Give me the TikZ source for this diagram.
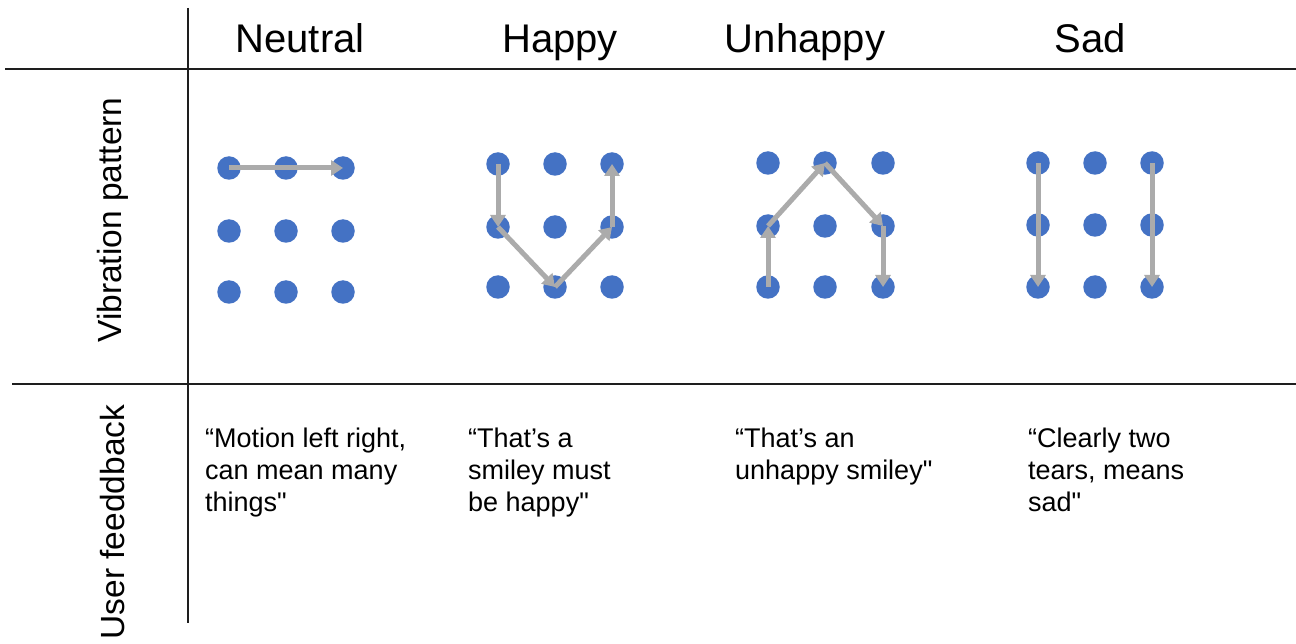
\documentclass[tikz,border=0pt]{standalone}
\usepackage{fontspec}
\setmainfont{Liberation Sans}[Ligatures=TeXOff]
\usetikzlibrary{arrows.meta}
\definecolor{dotblue}{HTML}{4472C4}
\definecolor{arrowgray}{HTML}{ABABAB}
\definecolor{rulecol}{HTML}{1E1E1E}
\tikzset{
  dot/.style={circle, fill=dotblue, minimum size=23.5pt, inner sep=0pt},
  patharrow/.style={draw=arrowgray, line width=5pt, -{Triangle[length=12pt,width=15pt]}},
  tablerule/.style={draw=rulecol, line width=2.5pt},
  header/.style={anchor=base, inner sep=0pt, font=\fontsize{40}{48}\selectfont},
  rowlabel/.style={rotate=90, inner sep=0pt, font=\fontsize{33.5}{40}\selectfont},
  feedback/.style={anchor=north west, align=left, inner sep=0pt, font=\fontsize{27}{32}\selectfont}
}
\begin{document}
\begin{tikzpicture}[x=1pt,y=-1pt]
\useasboundingbox (0,0) rectangle (1296,644);
% table rules
\coordinate (topL) at (5,69);
\coordinate (topR) at (1296,69);
\coordinate (midL) at (12,384);
\coordinate (midR) at (1296,384);
\coordinate (vT) at (188,8);
\coordinate (vB) at (188,623);
\draw[tablerule] (topL) -- (topR);
\draw[tablerule] (midL) -- (midR);
\draw[tablerule] (vT) -- (vB);
% headers
\node[header] (hN) at (300,53) {Neutral};
\node[header] (hH) at (560,53) {Happy};
\node[header] (hU) at (805,53) {Unhappy};
\node[header] (hS) at (1090,53) {Sad};
% row labels
\node[rowlabel] (rV) at (113,220) {Vibration pattern};
\node[rowlabel] (rF) at (113,522) {User feeddback};
% dots
\foreach \p/\xa/\xb/\xc/\ya/\yb/\yc in {n/229/286/343/168/231/292, h/498/555/612/164/227/287, u/768/825/883/163/226/287, s/1038/1095/1152/163/225/287}{
  \foreach \c/\x in {1/\xa,2/\xb,3/\xc}{
    \foreach \r/\y in {1/\ya,2/\yb,3/\yc}{
      \node[dot] (\p-\c-\r) at (\x,\y) {};
    }
  }
}
% Neutral
\draw[patharrow] (n-1-1.center) -- (n-3-1.center);
% Happy
\draw[patharrow] (h-1-1.center) -- (h-1-2.center);
\draw[patharrow] (h-1-2.center) -- (h-2-3.center);
\draw[patharrow] (h-2-3.center) -- (h-3-2.center);
\draw[patharrow] (h-3-2.center) -- (h-3-1.center);
% Unhappy
\draw[patharrow] (u-1-3.center) -- (u-1-2.center);
\draw[patharrow] (u-1-2.center) -- (u-2-1.center);
\draw[patharrow] (u-2-1.center) -- (u-3-2.center);
\draw[patharrow] (u-3-2.center) -- (u-3-3.center);
% Sad
\draw[patharrow] (s-1-1.center) -- (s-1-3.center);
\draw[patharrow] (s-3-1.center) -- (s-3-3.center);
% feedback
\node[feedback] (fN) at (205,428) {“Motion left right,\\can mean many\\things"};
\node[feedback] (fH) at (468,428) {“That’s a\\smiley must\\be happy"};
\node[feedback] (fU) at (735,428) {“That’s an\\unhappy smiley"};
\node[feedback] (fS) at (1028,428) {“Clearly two\\tears, means\\sad"};
\end{tikzpicture}
\end{document}
